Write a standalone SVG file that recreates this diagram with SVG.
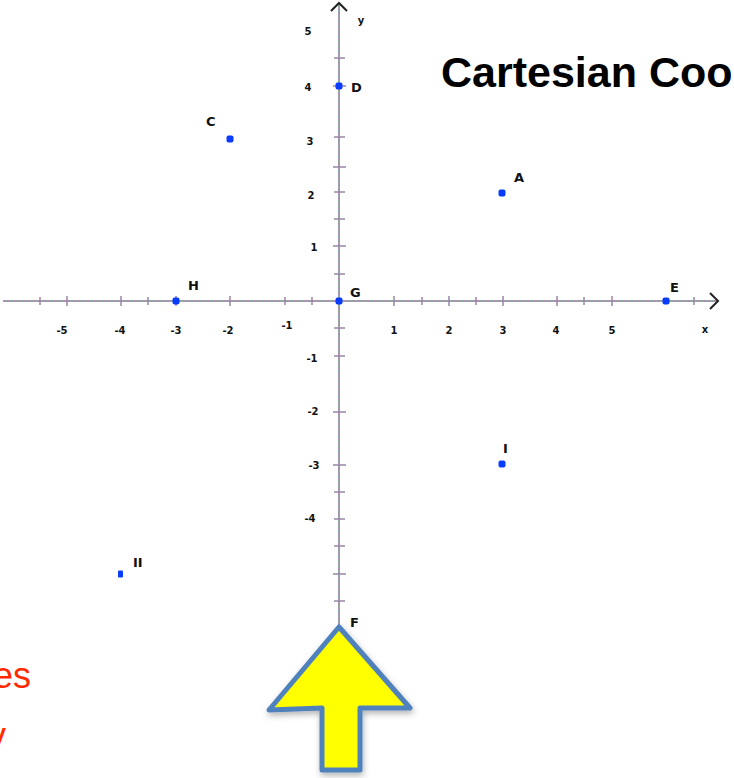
<svg xmlns="http://www.w3.org/2000/svg" width="734" height="778" viewBox="0 0 734 778">
<defs>
<style>
.ax{stroke:#8fa89e;stroke-width:2;fill:none}
.axd{stroke:#b58ab8;stroke-width:2;fill:none;stroke-dasharray:2 3}
.tk{stroke:#9a86a8;stroke-width:1.5}
.num{font-family:"DejaVu Sans",sans-serif;font-size:10px;font-weight:bold;fill:#111;text-anchor:middle}
.lbl{font-family:"DejaVu Sans",sans-serif;font-size:13px;font-weight:bold;fill:#111}
.pt{fill:#0a3cff}
.red{font-family:"Liberation Sans",Arial,sans-serif;font-size:36px;fill:#ff2a00}
</style>
<filter id="sh" x="-20%" y="-20%" width="140%" height="140%"><feDropShadow dx="1" dy="3" stdDeviation="3" flood-color="#000" flood-opacity="0.3"/></filter>
</defs>
<rect width="734" height="778" fill="#fff"/>
<text x="441" y="87" font-family="Liberation Sans, Arial, sans-serif" font-size="43" font-weight="bold" fill="#000">Cartesian Coo</text>
<g id="axes">
<line class="ax" x1="3" y1="301" x2="718" y2="301"/>
<line class="axd" x1="3" y1="301" x2="718" y2="301"/>
<line class="ax" x1="339" y1="3" x2="339" y2="628"/>
<line class="axd" x1="339" y1="3" x2="339" y2="628"/>
<polyline points="710,293 718,301 710,309" fill="none" stroke="#222" stroke-width="2"/>
<polyline points="331,11 339,3 347,11" fill="none" stroke="#222" stroke-width="2"/>
<g class="tk">
<line x1="40" y1="297" x2="40" y2="305"/><line x1="67" y1="296" x2="67" y2="306"/><line x1="121" y1="296" x2="121" y2="306"/><line x1="148" y1="297" x2="148" y2="305"/><line x1="176" y1="296" x2="176" y2="306"/><line x1="230" y1="296" x2="230" y2="306"/><line x1="285" y1="297" x2="285" y2="305"/><line x1="312" y1="297" x2="312" y2="305"/><line x1="394" y1="296" x2="394" y2="306"/><line x1="422" y1="297" x2="422" y2="305"/><line x1="449" y1="296" x2="449" y2="306"/><line x1="476" y1="297" x2="476" y2="305"/><line x1="503" y1="296" x2="503" y2="306"/><line x1="557" y1="296" x2="557" y2="306"/><line x1="584" y1="297" x2="584" y2="305"/><line x1="612" y1="296" x2="612" y2="306"/><line x1="694" y1="297" x2="694" y2="305"/>
<line x1="334" y1="58" x2="345" y2="58"/><line x1="333" y1="86" x2="346" y2="86"/><line x1="334" y1="137" x2="345" y2="137"/><line x1="333" y1="167" x2="346" y2="167"/><line x1="334" y1="192" x2="345" y2="192"/><line x1="334" y1="219" x2="345" y2="219"/><line x1="333" y1="246" x2="346" y2="246"/><line x1="334" y1="274" x2="345" y2="274"/><line x1="334" y1="328" x2="345" y2="328"/><line x1="334" y1="356" x2="345" y2="356"/><line x1="333" y1="412" x2="346" y2="412"/><line x1="333" y1="465" x2="346" y2="465"/><line x1="334" y1="492" x2="345" y2="492"/><line x1="334" y1="519" x2="345" y2="519"/><line x1="334" y1="546" x2="345" y2="546"/><line x1="333" y1="574" x2="346" y2="574"/><line x1="334" y1="601" x2="345" y2="601"/>
</g>
<g class="num">
<text x="62" y="334">-5</text><text x="120" y="334">-4</text><text x="176" y="334">-3</text><text x="228" y="334">-2</text><text x="287" y="329">-1</text>
<text x="394" y="334">1</text><text x="449" y="334">2</text><text x="503" y="334">3</text><text x="556" y="334">4</text><text x="612" y="334">5</text><text x="705" y="333">x</text>
<text x="308" y="35">5</text><text x="308" y="91">4</text><text x="310" y="145">3</text><text x="311" y="199">2</text><text x="314" y="251">1</text>
<text x="312" y="362">-1</text><text x="313" y="415">-2</text><text x="314" y="469">-3</text><text x="310" y="522">-4</text><text x="361" y="24">y</text>
</g>
</g>
<g id="pA"><rect class="pt" x="498.5" y="189.5" width="7" height="7" rx="2"/><text class="lbl" x="514" y="182">A</text></g>
<g id="pC"><rect class="pt" x="226.5" y="135.5" width="7" height="7" rx="2"/><text class="lbl" x="206" y="126">C</text></g>
<g id="pD"><rect class="pt" x="335.5" y="82.5" width="7" height="7" rx="2"/><text class="lbl" x="351" y="92">D</text></g>
<g id="pE"><rect class="pt" x="662.5" y="297.5" width="7" height="7" rx="2"/><text class="lbl" x="670" y="292">E</text></g>
<g id="pG"><rect class="pt" x="335.5" y="297.5" width="7" height="7" rx="2"/><text class="lbl" x="350" y="297">G</text></g>
<g id="pH"><rect class="pt" x="172.5" y="297.5" width="7" height="7" rx="2"/><text class="lbl" x="188" y="290">H</text></g>
<g id="pI"><rect class="pt" x="498.5" y="460.5" width="7" height="7" rx="2"/><text class="lbl" x="503" y="453">I</text></g>
<g id="pJ"><rect class="pt" x="118" y="570.5" width="5" height="7" rx="1"/><text class="lbl" x="133" y="567">II</text></g>
<g id="pF"><text class="lbl" x="350" y="627">F</text></g>
<g id="arrow"><polygon points="339,627 410,708 360,708 360,770 322,770 322,708 269,710" fill="#ffff00" stroke="#4f81bd" stroke-width="5" stroke-linejoin="round" filter="url(#sh)"/></g>
<text class="red" x="31" y="688" text-anchor="end">es</text>
<text class="red" x="6" y="748" text-anchor="end">y</text>
</svg>
